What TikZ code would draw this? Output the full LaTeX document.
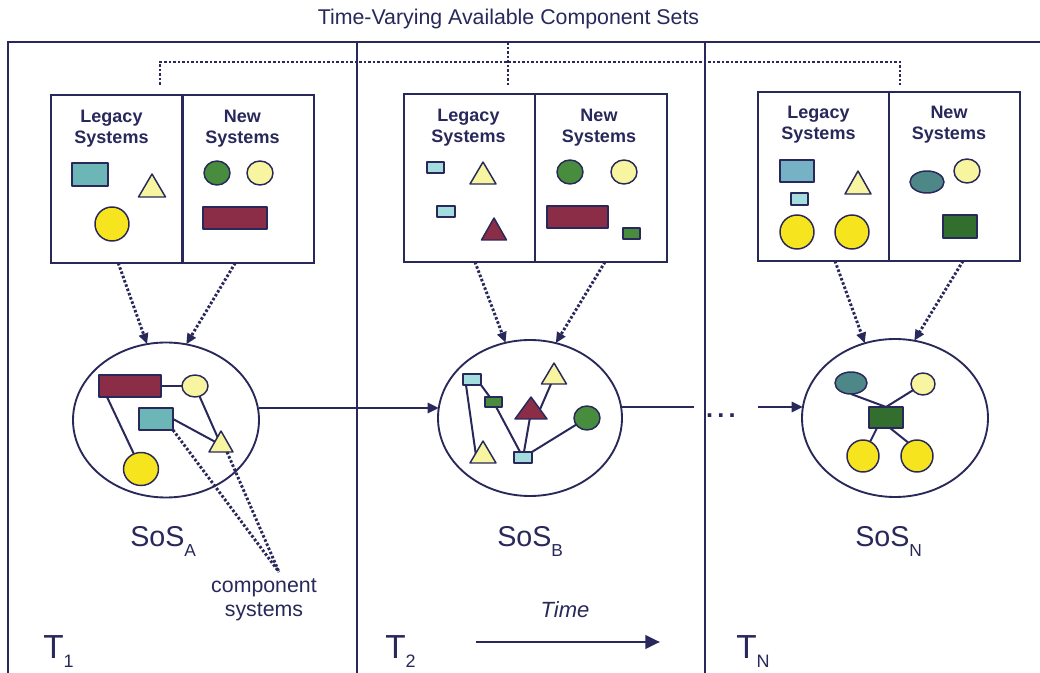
\documentclass[tikz,border=0pt]{standalone}
\usepackage{fontspec}
\setmainfont{Liberation Sans}
\usetikzlibrary{arrows.meta,shapes.geometric,calc,backgrounds}

\definecolor{ink}{RGB}{40,40,90}
\definecolor{tealM}{RGB}{108,182,184}
\definecolor{tealB}{RGB}{118,178,198}
\definecolor{tealL}{RGB}{165,220,222}
\definecolor{paleY}{RGB}{247,245,160}
\definecolor{sunY}{RGB}{246,228,30}
\definecolor{leafG}{RGB}{72,140,62}
\definecolor{forestG}{RGB}{50,110,45}
\definecolor{wine}{RGB}{140,45,72}
\definecolor{slateT}{RGB}{78,135,135}

% triangle: name, apex x, apex y, half base, height, fill
\newcommand{\tri}[6]{%
  \draw[sline, fill=#6] (#2,#3) -- ++(#4,#5) -- ++({-2*#4},0) -- cycle;
  \coordinate (#1) at (#2,{#3+2*#5/3});
}

\begin{document}
\begin{tikzpicture}[x=0.75pt, y=-0.75pt,
  wh/.style 2 args={minimum width={#1*0.75pt}, minimum height={#2*0.75pt}},
  sline/.style={draw=ink, line width=1.1pt, line join=round},
  part/.style={sline, rectangle, inner sep=0pt, outer sep=0pt},
  ball/.style={sline, ellipse, inner sep=0pt, outer sep=0pt},
  panel/.style={draw=ink, line width=1.8pt, rectangle, inner sep=0pt, outer sep=0pt},
  head/.style={text=ink, font=\fontsize{13.5}{15.75}\selectfont\bfseries, align=center, inner sep=0pt, anchor=north},
  sos/.style={ellipse, draw=ink, line width=1.4pt, inner sep=0pt, outer sep=0pt},
  link/.style={draw=ink, line width=1.5pt},
  dotl/.style={draw=ink, line width=2.2pt, dash pattern=on 1.9pt off 1.5pt},
  feed/.style={dotl, -{Triangle[length=8pt,width=7pt]}},
  flow/.style={draw=ink, line width=2.2pt},
  flowarrow/.style={flow, -{Triangle[length=8.5pt,width=7.5pt]}},
  lbl/.style={text=ink, inner sep=0pt, anchor=base west},
  frame/.style={draw=ink, line width=1.3pt},
]
\useasboundingbox (0,0) rectangle (1040,673);
\begin{pgfonlayer}{background}
  \fill[white] (0,0) rectangle (1040,673);
\end{pgfonlayer}

% time frames
\draw[frame] (8,673) -- (8,42) -- (1040,42);
\draw[frame] (357,42) -- (357,673);
\draw[frame] (705,42) -- (705,673);

\node[text=ink, font=\fontsize{16}{19}\selectfont, anchor=base, inner sep=0pt] (title) at (508.5,25) {Time-Varying Available Component Sets};

% available component sets
\node[panel, wh={131.5}{168}] (L1) at (116.75,179) {};
\node[panel, wh={131.5}{168}] (N1) at (248.25,179) {};
\node[panel, wh={131}{168}] (L2) at (469.5,178) {};
\node[panel, wh={132}{168}] (N2) at (601,178) {};
\node[panel, wh={131}{169}] (L3) at (823.5,176.5) {};
\node[panel, wh={131}{169}] (N3) at (954.5,176.5) {};

\node[head] (hL1) at (111.5,110) {Legacy\\Systems};
\node[head] (hN1) at (242.5,110) {New\\Systems};
\node[head] (hL2) at (468.5,109) {Legacy\\Systems};
\node[head] (hN2) at (599,109) {New\\Systems};
\node[head] (hL3) at (818.5,106) {Legacy\\Systems};
\node[head] (hN3) at (949,106) {New\\Systems};

% set 1
\node[part, fill=tealM, wh={36}{23}] (a1) at (90,174.5) {};
\tri{a2}{152}{174}{13.5}{23}{paleY}
\node[ball, fill=sunY, wh={34}{34}] (a3) at (112,224) {};
\node[ball, fill=leafG, wh={26}{24}] (a4) at (217,173) {};
\node[ball, fill=paleY, wh={26}{24}] (a5) at (260,173) {};
\node[part, fill=wine, wh={64}{22}] (a6) at (235,218) {};

% set 2
\node[part, fill=tealL, wh={17}{11}] (b1) at (435.5,167.5) {};
\tri{b2}{483}{162}{13}{22}{paleY}
\node[part, fill=tealL, wh={18}{11}] (b3) at (446,211.5) {};
\tri{b4}{494}{218}{12.5}{22}{wine}
\node[ball, fill=leafG, wh={26}{24}] (b5) at (570,172) {};
\node[ball, fill=paleY, wh={26}{24}] (b6) at (624,172) {};
\node[part, fill=wine, wh={61}{22}] (b7) at (577.5,217) {};
\node[part, fill=leafG, wh={17}{11}] (b8) at (631.5,233.5) {};

% set 3
\node[part, fill=tealB, wh={34}{22}] (c1) at (797,171) {};
\node[part, fill=tealL, wh={17}{12}] (c2) at (799.5,199) {};
\tri{c3}{858}{171}{13}{23}{paleY}
\node[ball, fill=sunY, wh={34}{34}] (c4) at (797,232) {};
\node[ball, fill=sunY, wh={34}{34}] (c5) at (852,232) {};
\node[ball, fill=slateT, wh={34}{22}] (c6) at (927,182) {};
\node[ball, fill=paleY, wh={26}{24}] (c7) at (967,171) {};
\node[part, fill=forestG, wh={34}{23}] (c8) at (960,226.5) {};

% shared pool links
\coordinate (jA) at (160,85);
\coordinate (jB) at (508,85);
\coordinate (jC) at (900,85);
\coordinate (jTop) at (508,42);
\draw[dotl] (jA) -- ++(0,-23) -- ++(740,0) -- (jC);
\draw[dotl] (jTop) -- (jB);

% systems of systems
\node[sos, wh={186}{155}] (E1) at (166,420) {};
\node[sos, wh={184}{156}] (E2) at (530,418) {};
\node[sos, wh={186}{158}] (E3) at (895,418) {};

% SoS A members
\node[part, fill=wine, wh={62}{22}] (mrA) at (130,386) {};
\node[ball, fill=paleY, wh={26}{22}] (lyA) at (195,386) {};
\node[part, fill=tealM, wh={34}{22}] (tlA) at (156,419) {};
\tri{triA}{221}{431}{12}{21}{paleY}
\node[ball, fill=sunY, wh={35}{33}] (ycA) at (141,469) {};

% SoS B members
\node[part, fill=tealL, wh={18}{11}] (t1B) at (472,379.5) {};
\node[part, fill=leafG, wh={17}{10}] (gB) at (493.5,402) {};
\tri{ytB}{554}{363}{12.5}{21}{paleY}
\tri{mtB}{531}{397}{16}{22}{wine}
\node[ball, fill=leafG, wh={26}{24}] (gcB) at (587,418) {};
\tri{ybB}{483}{441}{13}{22}{paleY}
\node[part, fill=tealL, wh={18}{11}] (tsB) at (523,457.5) {};

% SoS N members
\node[ball, fill=slateT, wh={32}{22}] (teN) at (851,383) {};
\node[ball, fill=paleY, wh={24}{22}] (lyN) at (923,384) {};
\node[part, fill=forestG, wh={34}{21}] (grN) at (886,417.5) {};
\node[ball, fill=sunY, wh={32}{32}] (ycL) at (863,456) {};
\node[ball, fill=sunY, wh={32}{32}] (ycR) at (917,456) {};

\begin{pgfonlayer}{background}
  \draw[link] (mrA) -- (lyA);
  \draw[link] ($(mrA.south west)+(8,0)$) -- (ycA);
  \draw[link] (lyA) -- (triA);
  \draw[link] (tlA.east) -- (triA);
  \draw[link] ($(t1B.south west)+(3,0)$) -- ($(ybB)+(-7,0)$);
  \draw[link] (t1B.south east) -- (gB);
  \draw[link] (gB) -- (tsB);
  \draw[link] (mtB) -- (tsB);
  \draw[link] ($(mtB)+(8,0)$) -- (ytB);
  \draw[link] (tsB) -- (gcB);
  \draw[link] (teN.south) -- (grN.north);
  \draw[link] (lyN) -- (grN.north);
  \draw[link] ($(grN.south)+(-9,0)$) -- (ycL);
  \draw[link] ($(grN.south)+(4,0)$) -- ($(ycR)+(-2,-8)$);
\end{pgfonlayer}

% selection into each SoS
\draw[feed] ($(L1.south)+(1.5,0)$) -- (E1.104);
\draw[feed] ($(N1.south)+(-13,0)$) -- (E1.75);
\draw[feed] ($(L2.south)+(5.5,0)$) -- (E2.108);
\draw[feed] ($(N2.south)+(4,0)$) -- (E2.71);
\draw[feed] ($(L3.south)+(11.5,0)$) -- (E3.112);
\draw[feed] ($(N3.south)+(8.5,0)$) -- (E3.76);

% evolution over time
\coordinate (gapL) at (694,407);
\coordinate (gapR) at (758,407);
\draw[flowarrow] ($(E1.east)+(0,-12)$) -- ($(E2.west)+(1,-10)$);
\draw[flow] ($(E2.east)+(0,-11)$) -- (gapL);
\node[text=ink, font=\fontsize{19}{20}\selectfont\bfseries, anchor=base, inner sep=0pt] (ell) at (721,418) {.\,.\,.};
\draw[flowarrow] (gapR) -- ($(E3.west)+(1,-11)$);

% labels
\node[lbl, font=\fontsize{21.5}{24}\selectfont] (sosA) at (130,547) {SoS\raisebox{-7pt}{\fontsize{13}{14}\selectfont A}};
\node[lbl, font=\fontsize{21.5}{24}\selectfont] (sosB) at (497,547) {SoS\raisebox{-7pt}{\fontsize{13}{14}\selectfont B}};
\node[lbl, font=\fontsize{21.5}{24}\selectfont] (sosN) at (855,547) {SoS\raisebox{-7pt}{\fontsize{13}{14}\selectfont N}};

\node[text=ink, align=center, font=\fontsize{16}{18}\selectfont, inner sep=0pt] (cs) at (264,600) {component\\systems};
\coordinate (csTip) at (279,572);
\draw[dotl] (tlA.south east) -- (csTip);
\draw[dotl] ($(triA)+(6,7)$) -- (csTip);

\node[lbl, font=\fontsize{25}{28}\selectfont] (t1) at (43,659) {T\raisebox{-6pt}{\fontsize{13.5}{14}\selectfont 1}};
\node[lbl, font=\fontsize{25}{28}\selectfont] (t2) at (385,659) {T\raisebox{-6pt}{\fontsize{13.5}{14}\selectfont 2}};
\node[lbl, font=\fontsize{25}{28}\selectfont] (tN) at (736,659) {T\raisebox{-6pt}{\fontsize{13.5}{14}\selectfont N}};

\node[text=ink, font=\fontsize{16.5}{18}\selectfont\itshape, inner sep=0pt] (time) at (565,610) {Time};
\coordinate (tA) at (476,642);
\coordinate (tB) at (660,642);
\draw[draw=ink, line width=2.2pt, -{Triangle[length=11pt,width=10pt]}] (tA) -- (tB);
\end{tikzpicture}
\end{document}
